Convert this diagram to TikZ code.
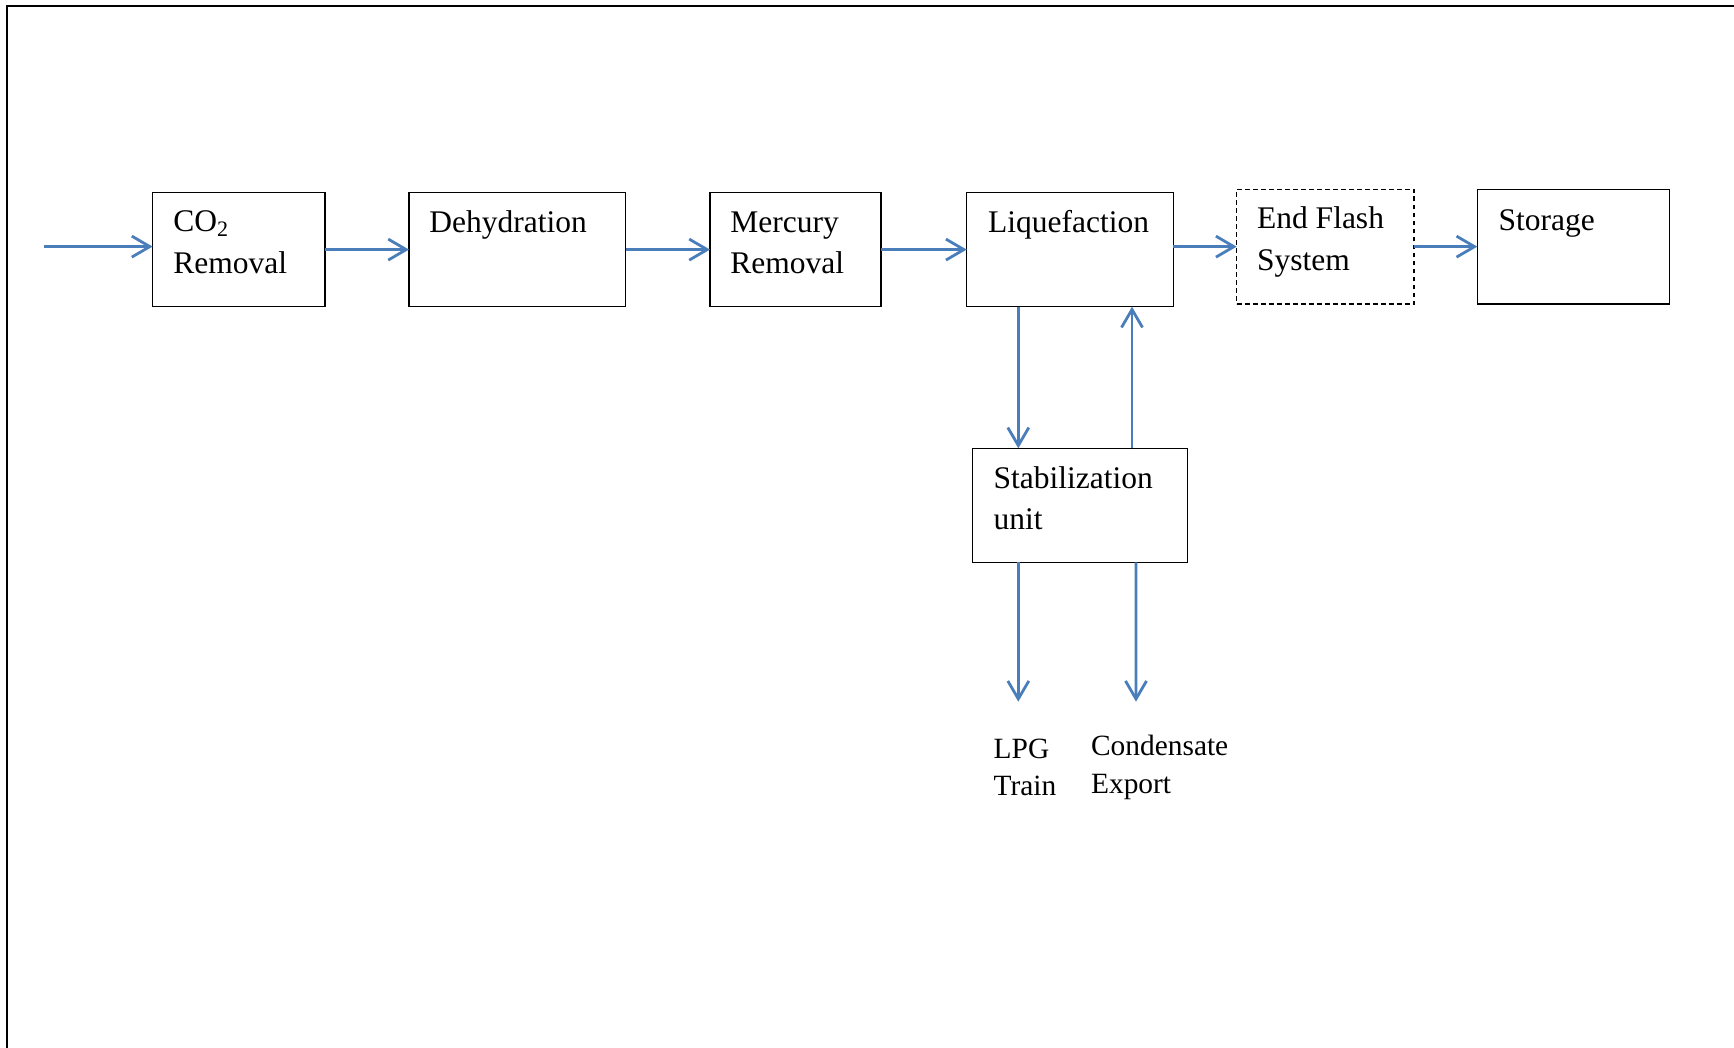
\documentclass[tikz,border=0pt]{standalone}
\usepackage{fontspec}
\setmainfont{Liberation Serif}
\usetikzlibrary{arrows.meta,calc}
\definecolor{flowblue}{RGB}{74,126,187}
\begin{document}
\begin{tikzpicture}[x=0.5pt,y=-0.5pt,
  box/.style={draw=black,line width=0.7pt,rectangle,inner sep=0pt,outer sep=0pt},
  dbox/.style={box,dash pattern=on 2.4pt off 1.6pt},
  txt/.style={anchor=base west,inner sep=0pt,font=\fontsize{15.75}{20.5}\selectfont},
  stxt/.style={anchor=base west,inner sep=0pt,font=\fontsize{14.7}{18.5}\selectfont},
  flow/.style={draw=flowblue,line width=1.4pt,-{Straight Barb[length=9pt,width=10.5pt]}}]
\useasboundingbox (0,0) rectangle (1734,1048);
% outer frame
\draw[line width=1pt] (7,1048) -- (7,6.5) -- (1734,6.5);
% boxes
\node[box,minimum width=86.2pt,minimum height=57.1pt] (co2) at (238.8,249.6) {};
\node[box,minimum width=108.35pt,minimum height=57.1pt] (deh) at (517.35,249.6) {};
\node[box,minimum width=85.5pt,minimum height=57.1pt] (merc) at (795.5,249.6) {};
\node[box,minimum width=103.3pt,minimum height=57.1pt] (liq) at (1070,249.6) {};
\node[dbox,minimum width=88.65pt,minimum height=57.35pt] (ef) at (1325.35,246.65) {};
\node[box,minimum width=96pt,minimum height=57.35pt] (stor) at (1573.3,246.65) {};
\node[box,minimum width=107.5pt,minimum height=57pt] (stab) at (1079.8,505.3) {};
% texts
\node[txt] (t1a) at (173,232) {CO\textsubscript{2}};
\node[txt] (t1b) at (173,274) {Removal};
\node[txt] (t2) at (429,232.7) {Dehydration};
\node[txt] (t3a) at (730,232.3) {Mercury};
\node[txt] (t3b) at (730,273.3) {Removal};
\node[txt] (t4) at (987.7,232.7) {Liquefaction};
\node[txt] (t5a) at (1256.7,228.3) {End Flash};
\node[txt] (t5b) at (1256.7,270.7) {System};
\node[txt] (t6) at (1498.3,230.7) {Storage};
\node[txt] (t7a) at (993.3,488.3) {Stabilization};
\node[txt] (t7b) at (993.3,529.3) {unit};
\node[stxt] (t8a) at (993.3,758.3) {LPG};
\node[stxt] (t8b) at (993.3,795) {Train};
\node[stxt] (t9a) at (1090.7,755) {Condensate};
\node[stxt] (t9b) at (1090.7,793.3) {Export};
% connectors
\coordinate (in) at (44.2,246.6);
\draw[flow] (in) -- (in -| co2.west);
\draw[flow] (co2.east) -- (deh.west);
\draw[flow] (deh.east) -- (merc.west);
\draw[flow] (merc.east) -- (liq.west);
\draw[flow] (liq.east |- ef.west) -- (ef.west);
\draw[flow] (ef.east) -- (stor.west);
\coordinate (d1) at ($(liq.south)+(-51.7,0)$);
\draw[flow] (d1) -- (d1 |- stab.north);
\coordinate (u1) at ($(stab.north)+(52.2,0)$);
\draw[flow] (u1) -- (u1 |- liq.south);
\coordinate (s1) at ($(stab.south)+(-61.5,0)$);
\coordinate (s2) at ($(stab.south)+(56.2,0)$);
\coordinate (lpgend) at (1018.3,701.7);
\coordinate (condend) at (1136,701.7);
\draw[flow] (s1) -- (lpgend);
\draw[flow] (s2) -- (condend);
\end{tikzpicture}
\end{document}
